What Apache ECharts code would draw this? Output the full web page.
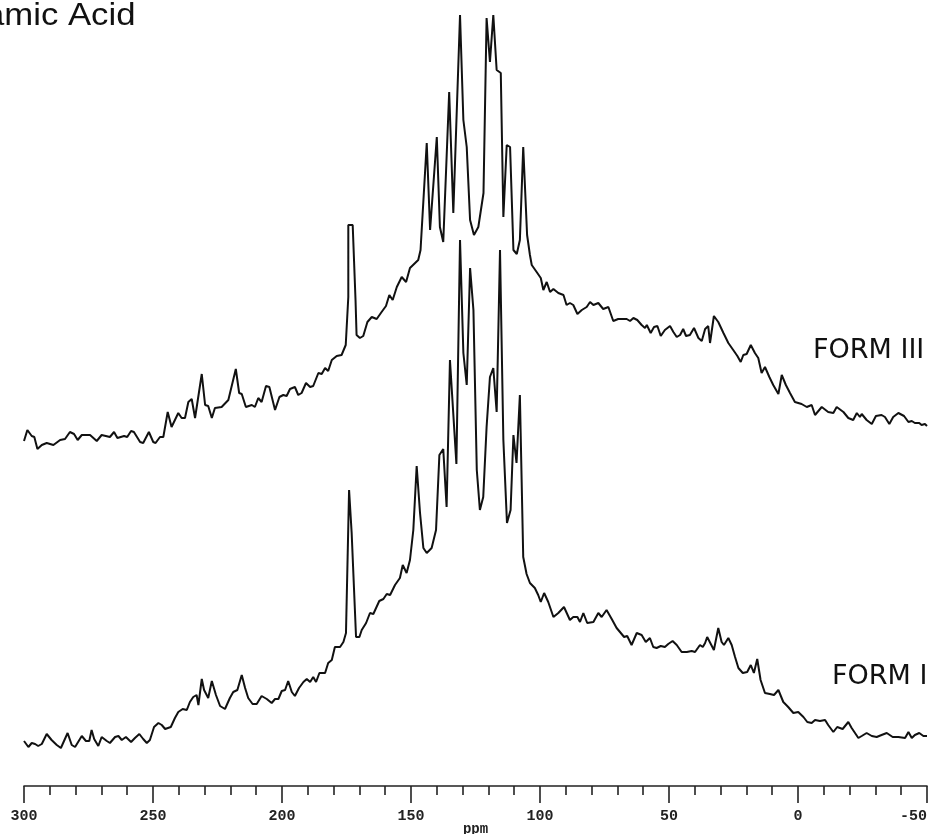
<!DOCTYPE html>
<html>
<head>
<meta charset="utf-8">
<title>Amic Acid 13C CP/MAS NMR</title>
<script src="https://cdn.jsdelivr.net/npm/echarts@6/dist/echarts.min.js"></script>
<style>
  html, body { margin: 0; padding: 0; background: #fff; }
  #chart { width: 937px; height: 834px; }
</style>
</head>
<body>
<div id="chart"></div>
<script>
// Chemical shift (ppm) and intensity (arbitrary units, traces stacked) for each form
const formIIIPpm = [300.0,298.7,297.0,296.0,294.8,293.1,291.2,288.6,286.0,284.1,282.2,280.6,279.2,277.6,274.4,271.8,269.9,266.7,265.1,263.8,261.2,260.0,258.5,257.4,255.0,253.8,251.6,249.9,249.0,247.3,246.0,244.3,242.8,240.2,238.9,237.6,236.3,235.0,233.7,231.1,229.8,228.6,227.2,226.0,223.4,220.8,217.9,216.6,215.6,214.0,211.7,210.5,209.2,207.9,206.2,204.9,202.7,201.0,199.5,198.2,196.9,195.0,193.7,192.4,190.7,189.1,187.9,185.9,184.6,183.3,182.1,180.7,178.8,176.9,175.3,174.3,174.3,172.6,171.5,171.1,169.8,168.5,166.9,165.2,163.3,161.4,159.7,158.4,157.1,155.5,153.6,151.9,150.4,148.4,147.2,146.3,143.9,142.6,140.0,138.8,137.5,135.2,133.6,131.0,129.7,128.4,127.1,125.6,123.9,121.9,120.7,119.4,118.1,116.8,115.2,114.2,112.9,111.6,110.3,109.0,107.8,106.5,105.0,103.9,103.2,101.3,99.7,98.7,97.4,96.1,94.8,92.9,90.9,89.7,88.4,87.1,85.5,83.8,81.9,80.6,79.3,77.4,75.5,73.5,71.6,69.7,66.4,65.1,63.8,62.3,60.6,59.3,58.6,57.1,55.8,54.5,53.2,51.6,49.6,48.3,47.0,45.7,44.5,43.4,41.9,40.3,38.6,37.3,36.0,34.8,34.1,32.6,30.9,28.9,27.0,25.1,23.5,22.2,21.2,19.9,18.3,16.7,15.4,14.1,12.8,11.1,9.6,7.6,6.3,4.7,3.1,1.2,-1.4,-3.4,-5.3,-6.6,-9.2,-11.7,-13.7,-15.0,-17.6,-19.5,-21.4,-22.8,-24.0,-24.7,-26.6,-28.6,-30.2,-32.4,-33.7,-35.4,-36.9,-38.9,-41.1,-42.8,-44.1,-45.3,-47.0,-47.9,-49.2,-50.0];
const formIIIInt = [345,356,350,349,337,341,343,341,346,347,354,352,346,351,351,345,351,349,354,348,350,349,355,354,344,343,354,344,343,349,349,374,359,373,368,368,384,387,368,412,381,380,368,378,379,386,417,393,392,379,381,379,388,384,400,399,376,389,391,390,397,399,391,393,403,399,400,413,412,418,415,426,430,431,441,489,561,561,486,451,448,450,464,469,467,474,480,491,486,499,509,504,518,523,526,536,643,556,649,559,544,694,573,771,666,639,566,551,559,593,768,724,771,716,713,569,641,639,536,532,546,639,551,531,521,514,508,496,504,494,497,493,491,481,483,481,472,476,479,484,481,483,477,479,465,467,467,465,468,466,461,458,461,453,459,460,450,456,460,454,449,451,457,450,451,458,448,445,457,460,443,470,464,453,443,436,430,424,431,432,441,433,428,413,419,409,401,392,411,401,393,384,382,379,381,371,379,374,373,379,374,368,366,373,369,372,366,362,370,371,369,362,369,373,370,364,365,363,363,361,362,360];

const formIPpm = [300.0,298.3,297.0,295.7,294.5,293.1,291.2,289.3,287.3,285.7,283.1,281.5,280.2,277.6,276.0,274.7,273.8,272.8,271.2,269.9,267.9,266.7,264.7,263.4,262.1,260.5,258.5,257.0,255.3,253.8,252.4,251.2,249.6,247.9,246.6,245.3,243.1,241.5,240.2,238.5,236.9,235.7,234.4,233.1,232.4,231.1,230.2,228.6,227.2,225.6,224.0,222.1,220.2,218.9,217.3,215.6,214.3,213.1,211.4,209.8,207.9,205.9,204.0,202.7,201.4,200.1,198.8,197.6,196.2,195.0,193.4,191.7,190.4,189.1,187.9,186.8,185.5,183.3,182.1,180.7,179.5,177.5,176.2,175.2,174.0,173.0,171.3,170.0,169.1,167.4,165.9,164.6,162.3,160.7,159.4,158.1,156.2,154.3,153.2,151.7,150.4,149.1,147.8,146.5,145.2,143.9,142.0,140.3,139.0,137.5,136.2,134.9,132.4,131.0,129.7,128.4,127.1,125.8,124.5,123.3,122.0,120.7,119.4,118.1,116.8,115.5,114.2,112.8,111.4,110.3,109.1,107.8,106.5,105.2,103.9,102.0,100.7,99.7,98.4,96.8,94.8,92.9,90.7,88.4,87.1,85.5,84.5,83.2,81.7,79.3,77.4,76.1,74.2,72.2,70.3,69.0,67.4,66.2,64.5,62.5,60.6,59.0,57.4,56.1,54.8,53.2,51.6,50.3,48.6,47.0,45.1,43.1,41.2,39.9,38.0,36.9,36.0,35.2,33.8,32.6,30.9,29.6,28.7,27.0,25.7,24.4,23.1,21.4,19.7,18.3,17.1,15.8,14.5,12.8,10.9,9.3,7.6,5.7,3.8,1.8,-0.1,-2.1,-3.6,-5.3,-6.6,-8.5,-10.5,-11.7,-13.7,-15.2,-17.3,-19.5,-20.8,-23.4,-24.7,-26.6,-28.6,-30.5,-32.4,-34.4,-36.7,-38.9,-41.5,-42.8,-44.1,-45.3,-47.0,-48.6,-50.0];
const formIInt = [45,39,43,42,40,42,52,46,41,38,53,41,39,50,45,45,56,47,40,49,45,43,49,50,46,49,44,48,52,47,43,46,59,63,61,57,59,68,74,77,76,84,89,91,81,107,96,88,105,91,80,77,88,94,96,111,98,88,82,82,90,87,83,87,87,95,96,105,94,90,98,104,107,104,109,104,113,113,123,126,139,139,144,153,296,253,149,149,156,163,173,172,185,187,192,191,201,208,221,213,226,256,320,273,238,233,238,256,331,337,279,426,322,546,433,401,518,476,316,276,289,359,409,418,374,536,346,263,276,351,323,391,229,212,203,198,191,184,193,184,169,173,179,166,169,169,164,173,163,164,173,169,176,167,158,154,149,150,141,153,151,144,148,139,138,140,139,142,145,141,134,134,135,134,141,139,143,149,142,136,158,144,141,148,141,129,118,113,114,121,113,127,106,93,92,91,96,84,79,73,74,69,64,63,66,65,66,61,54,59,57,64,58,48,50,53,50,49,51,53,49,49,48,54,48,51,53,50,50];

// Axis extent and labelled ticks (ppm, drawn high to low)
const ppmMax = 300;
const ppmMin = -50;
const majorStep = 50;

const traceLabels = [
  { text: 'FORM III', x: 813, y: 351 },
  { text: 'FORM I',   x: 832, y: 677 }
];
const titleText = 'amic Acid';

function pairs(xs, ys) {
  return xs.map((x, i) => [x, ys[i]]);
}

const chart = echarts.init(document.getElementById('chart'), null, { renderer: 'canvas' });

const lineStyle = { color: '#111', width: 2 };

chart.setOption({
  animation: false,
  backgroundColor: '#ffffff',
  grid: { left: 24, right: 10, top: 0, bottom: 48, containLabel: false, outerBoundsMode: 'none' },
  xAxis: {
    type: 'value',
    inverse: true,
    min: ppmMin,
    max: ppmMax,
    interval: majorStep,
    name: 'ppm',
    nameLocation: 'middle',
    nameGap: 36,
    nameMoveOverlap: false,
    nameTextStyle: { fontFamily: 'Liberation Mono', fontSize: 14, fontWeight: 'bold', color: '#222' },
    axisLine: { show: true, lineStyle: { color: '#222', width: 1.6 } },
    axisTick: { show: true, inside: false, length: 17, lineStyle: { color: '#222', width: 1.6 } },
    minorTick: { show: true, splitNumber: 5, length: 9, lineStyle: { color: '#222', width: 1.6 } },
    axisLabel: {
      margin: 23,
      fontFamily: 'Liberation Mono',
      fontSize: 15,
      fontWeight: 'bold',
      color: '#222',
      alignMinLabel: 'right'
    },
    splitLine: { show: false },
    minorSplitLine: { show: false }
  },
  yAxis: {
    type: 'value',
    min: 0,
    max: 786,
    show: false
  },
  series: [
    {
      name: 'FORM III',
      type: 'line',
      data: pairs(formIIIPpm, formIIIInt),
      showSymbol: false,
      lineStyle: lineStyle,
      z: 3
    },
    {
      name: 'FORM I',
      type: 'line',
      data: pairs(formIPpm, formIInt),
      showSymbol: false,
      lineStyle: lineStyle,
      z: 3
    }
  ],
  graphic: [
    {
      type: 'text',
      x: -15,
      y: 1,
      scaleX: 1.12,
      style: {
        text: titleText,
        font: '31px "Liberation Sans", Arial, sans-serif',
        fill: '#111',
        verticalAlign: 'top'
      }
    }
  ].concat(traceLabels.map(l => ({
    type: 'text',
    x: l.x,
    y: l.y,
    style: {
      text: l.text,
      font: '27px "DejaVu Sans", sans-serif',
      fill: '#111',
      verticalAlign: 'middle'
    }
  })))
});
</script>
</body>
</html>
